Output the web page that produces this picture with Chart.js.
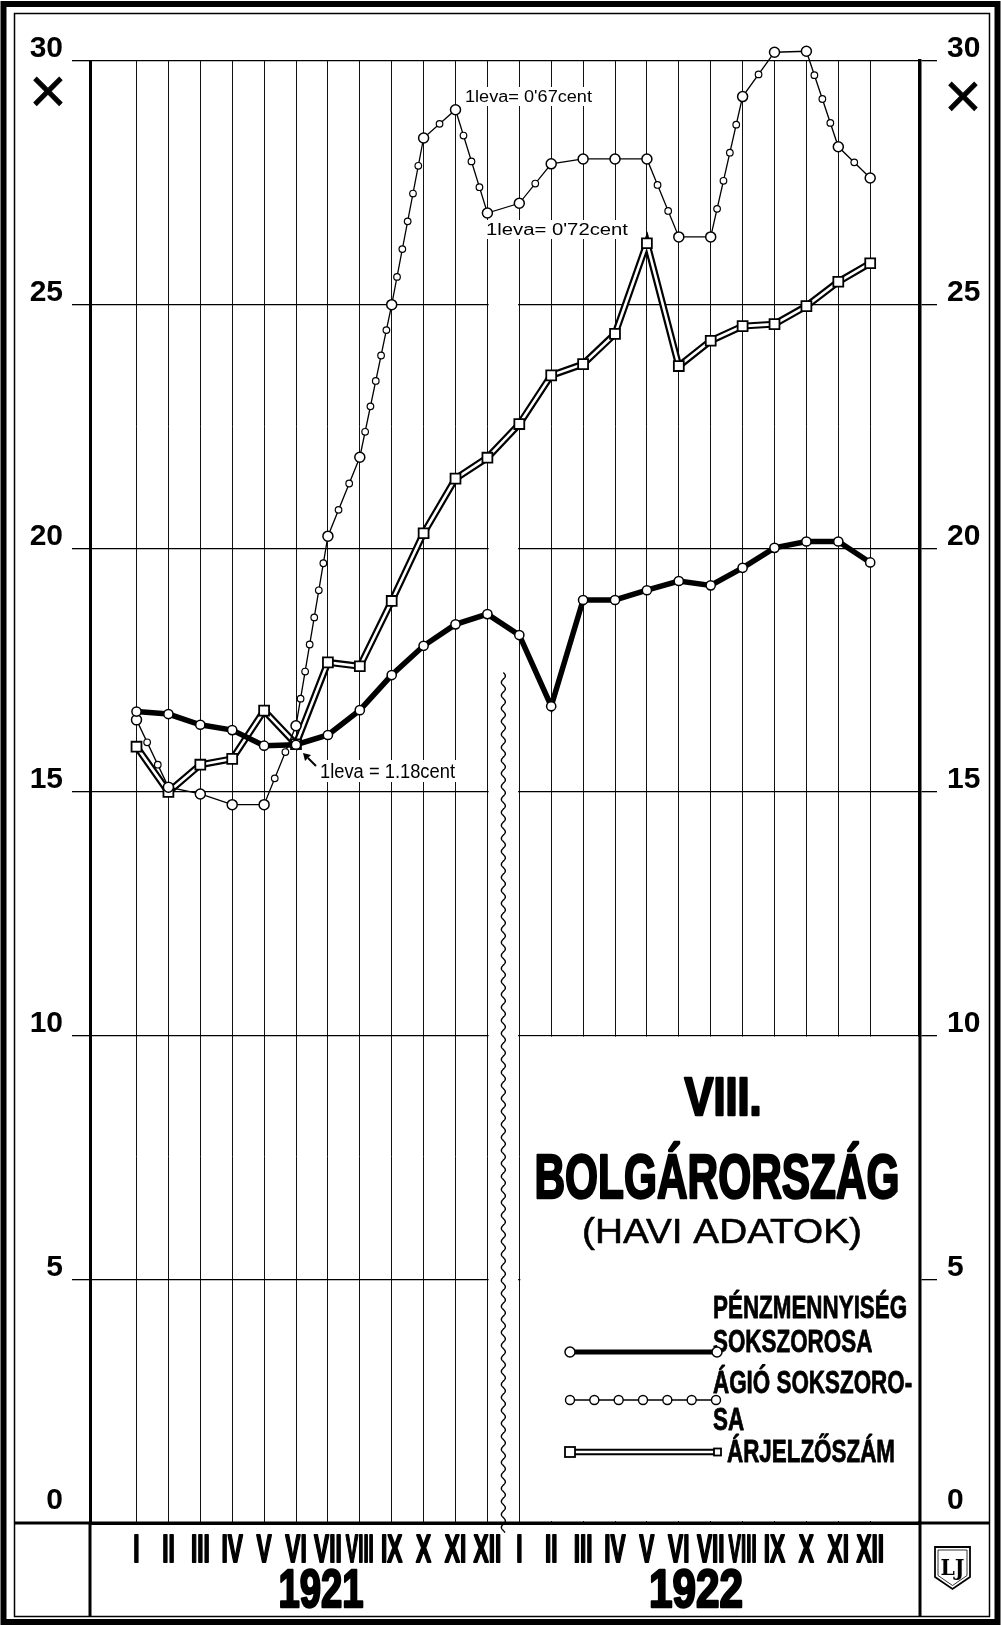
<!DOCTYPE html>
<html>
<head>
<meta charset="utf-8">
<script src="https://cdn.jsdelivr.net/npm/chart.js@4/dist/chart.umd.min.js"></script>
<style>
html,body{margin:0;padding:0;background:#fff;}
canvas{display:block;}
</style>
</head>
<body>
<canvas id="c" width="1001" height="1625"></canvas>
<script>
// ---------------- DATA ----------------
const months = ['I','II','III','IV','V','VI','VII','VIII','IX','X','XI','XII',
                'I','II','III','IV','V','VI','VII','VIII','IX','X','XI','XII'];
const years = ['1921', '1922'];
const yTicks = [0, 5, 10, 15, 20, 25, 30];

// Pénzmennyiség sokszorosa (thick line)
const penzmennyiseg = [16.65, 16.6, 16.38, 16.27, 15.95, 15.97, 16.17, 16.68, 17.4, 18.0, 18.44, 18.65,
                       18.22, 16.76, 18.94, 18.94, 19.14, 19.33, 19.24, 19.6, 20.01, 20.14, 20.14, 19.71];
// Ágió sokszorosa (circle line)
const agio = [16.48, 15.1, 14.96, 14.74, 14.74, 16.36, 20.25, 21.87, 25.0, 28.42, 29.0, 26.88,
              27.08, 27.89, 27.99, 27.99, 27.99, 26.39, 26.39, 29.27, 30.18, 30.2, 28.24, 27.6];
// Árjelzőszám (double line with squares)
const arjelzo = [15.93, 15.0, 15.56, 15.68, 16.67, 15.98, 17.66, 17.58, 18.92, 20.31, 21.43, 21.86,
                 22.55, 23.55, 23.78, 24.4, 26.26, 23.74, 24.26, 24.56, 24.6, 24.97, 25.47, 25.85];

const titleLines = ['VIII.', 'BOLGÁRORSZÁG', '(HAVI ADATOK)'];
const legendTexts = [['PÉNZMENNYISÉG', 'SOKSZOROSA'], ['ÁGIÓ SOKSZORO-', 'SA'], ['ÁRJELZŐSZÁM']];
const notes = ['1leva= 0\'67cent', '1leva= 0\'72cent', '1leva = 1.18cent'];
const multSign = '×';
const logoText = 'LJ';

// ---------------- HELPERS ----------------
const toXY = arr => arr.map((v, i) => ({x: i, y: v}));

function txt(ctx, s, x, y, o) {
  ctx.save();
  ctx.font = o.font;
  ctx.textBaseline = 'alphabetic';
  ctx.textAlign = 'left';
  const w = ctx.measureText(s).width;
  let sx = o.sx || 1;
  if (o.width) sx = o.width / w;
  const W = w * sx;
  let x0 = x;
  if (o.align === 'center') x0 = x - W / 2;
  else if (o.align === 'right') x0 = x - W;
  ctx.translate(x0, y);
  ctx.scale(sx, 1);
  if (o.bg) {
    ctx.fillStyle = '#fff';
    ctx.fillRect(-3 / sx, -o.bgUp, (w + 6 / sx), o.bgUp + o.bgDown);
  }
  ctx.fillStyle = o.color || '#000';
  ctx.fillText(s, 0, 0);
  if (o.stroke) {
    ctx.lineWidth = o.stroke;
    ctx.strokeStyle = o.color || '#000';
    ctx.lineJoin = 'round';
    ctx.strokeText(s, 0, 0);
  }
  ctx.restore();
  return W;
}

function circle(ctx, x, y, r, lw) {
  ctx.beginPath();
  ctx.arc(x, y, r, 0, Math.PI * 2);
  ctx.fillStyle = '#fff';
  ctx.fill();
  ctx.lineWidth = lw;
  ctx.strokeStyle = '#000';
  ctx.stroke();
}

function line(ctx, x1, y1, x2, y2, lw, color) {
  ctx.beginPath();
  ctx.moveTo(x1, y1);
  ctx.lineTo(x2, y2);
  ctx.lineWidth = lw;
  ctx.strokeStyle = color || '#000';
  ctx.stroke();
}

// ---------------- PLUGIN ----------------
const decor = {
  id: 'decor',
  beforeDatasetsDraw(chart) {
    const {ctx, chartArea: ca, scales: {x: xs, y: ys}} = chart;
    ctx.save();
    // white column between XII 1921 and I 1922
    const x11 = xs.getPixelForValue(11), x12 = xs.getPixelForValue(12);
    ctx.fillStyle = '#fff';
    ctx.fillRect(x11 + 1.2, ca.top + 1.5, x12 - x11 - 2.4, ca.bottom - ca.top - 3.5);
    // title / legend box in the lower right
    const y10 = ys.getPixelForValue(10);
    ctx.fillRect(x12 + 1, y10 + 1, ca.right - x12 - 2.6, ca.bottom - y10 - 3);

    // annotations
    txt(ctx, notes[0], 465, 102, {font: '16px "Liberation Sans"', width: 127, bg: true, bgUp: 15, bgDown: 4});
    txt(ctx, notes[1], 486, 235, {font: '16px "Liberation Sans"', width: 142, bg: true, bgUp: 15, bgDown: 4});
    txt(ctx, notes[2], 320, 778, {font: '20px "Liberation Sans"', width: 135, bg: true, bgUp: 18, bgDown: 4});
    // arrow for 1.18 cent
    line(ctx, 316, 766, 308, 758, 2);
    ctx.beginPath();
    ctx.moveTo(303, 753); ctx.lineTo(311, 755); ctx.lineTo(305, 761); ctx.closePath();
    ctx.fillStyle = '#000'; ctx.fill();
    ctx.restore();
  },
  afterDatasetDraw(chart, args) {
    if (args.index !== 1) return;
    const ctx = chart.ctx;
    const pts = args.meta.data;
    ctx.save();
    for (let i = 0; i < pts.length - 1; i++) {
      const p0 = pts[i], p1 = pts[i + 1];
      const len = Math.hypot(p1.x - p0.x, p1.y - p0.y);
      const n = Math.max(1, Math.round(len / 27));
      for (let k = 1; k < n; k++) {
        const t = k / n;
        circle(ctx, p0.x + (p1.x - p0.x) * t, p0.y + (p1.y - p0.y) * t, 3.3, 1.2);
      }
    }
    // month markers that lie above the plot top (library skips points outside the area)
    pts.forEach(p => { if (p.y < chart.chartArea.top) circle(ctx, p.x, p.y, 5, 1.5); });
    ctx.restore();
  },
  afterDraw(chart) {
    const {ctx, chartArea: ca, scales: {x: xs, y: ys}} = chart;
    ctx.save();
    // frame
    ctx.strokeStyle = '#000';
    ctx.lineWidth = 6;
    ctx.strokeRect(3.5, 4, 994, 1618);
    ctx.lineWidth = 1.5;
    ctx.strokeRect(14.5, 13.5, 975, 1603);
    // bottom band lines
    line(ctx, 14.5, ca.bottom, 989.5, ca.bottom, 3);
    line(ctx, ca.left, ca.bottom, ca.left, 1617, 3);
    line(ctx, ca.right, ca.bottom, ca.right, 1617, 3);

    // wavy separator
    const xw = xs.getPixelForValue(11.5);
    const yTop = ys.getPixelForValue(17.45), yBot = ca.bottom + 10;
    ctx.beginPath();
    for (let y = yTop; y <= yBot; y += 0.5) {
      const x = xw + 2 * Math.sin((y - yTop) / 13 * 2 * Math.PI);
      if (y === yTop) ctx.moveTo(x, y); else ctx.lineTo(x, y);
    }
    ctx.lineWidth = 1.4;
    ctx.strokeStyle = '#000';
    ctx.stroke();

    // month numerals
    months.forEach((m, i) => {
      const x = xs.getPixelForValue(i);
      ctx.font = 'bold 39px "Liberation Sans"';
      const w = ctx.measureText(m).width;
      const sx = Math.min(0.58, 28 / w);
      txt(ctx, m, x, 1562, {font: 'bold 39px "Liberation Sans"', sx: sx, align: 'center', stroke: 2});
    });
    // years
    txt(ctx, years[0], xs.getPixelForValue(5.78), 1607, {font: 'bold 54px "Liberation Sans"', width: 85, align: 'center', stroke: 2.5});
    txt(ctx, years[1], xs.getPixelForValue(17.54), 1607, {font: 'bold 54px "Liberation Sans"', width: 94, align: 'center', stroke: 2.5});

    // multiplication signs under the 30 labels
    ctx.font = '50px "DejaVu Sans"';
    ctx.textAlign = 'center';
    ctx.textBaseline = 'alphabetic';
    const mm = ctx.measureText(multSign);
    const off = (mm.actualBoundingBoxAscent - mm.actualBoundingBoxDescent) / 2;
    ctx.fillStyle = '#000';
    ctx.lineWidth = 1;
    ctx.strokeStyle = '#000';
    ctx.fillText(multSign, 48, 91 + off);
    ctx.strokeText(multSign, 48, 91 + off);
    ctx.fillText(multSign, 963, 96 + off);
    ctx.strokeText(multSign, 963, 96 + off);

    // title block
    txt(ctx, titleLines[0], 723, 1115, {font: 'bold 53px "Liberation Sans"', width: 77, align: 'center', stroke: 2.5});
    txt(ctx, titleLines[1], 717, 1198, {font: 'bold 63px "Liberation Sans"', width: 365, align: 'center', stroke: 2.5});
    txt(ctx, titleLines[2], 722, 1243, {font: '35px "Liberation Sans"', width: 280, align: 'center', stroke: 0.6});

    // legend texts
    const lf = 'bold 32px "Liberation Sans"';
    txt(ctx, legendTexts[0][0], 713, 1318, {font: lf, sx: 0.7, stroke: 0.8});
    txt(ctx, legendTexts[0][1], 713, 1352, {font: lf, sx: 0.7, stroke: 0.8});
    txt(ctx, legendTexts[1][0], 713, 1393, {font: lf, sx: 0.7, stroke: 0.8});
    txt(ctx, legendTexts[1][1], 713, 1430, {font: lf, sx: 0.7, stroke: 0.8});
    txt(ctx, legendTexts[2][0], 727, 1462, {font: lf, sx: 0.7, stroke: 0.8});

    // legend symbols
    line(ctx, 570, 1352, 717, 1352, 5);
    circle(ctx, 570, 1352, 5, 1.5);
    circle(ctx, 717, 1352, 5, 1.5);
    line(ctx, 570, 1400, 716, 1400, 1.3);
    for (let k = 0; k < 7; k++) circle(ctx, 570 + k * (146 / 6), 1400, 4.5, 1.4);
    line(ctx, 570, 1452, 717, 1452, 6.5);
    line(ctx, 572, 1452, 715, 1452, 2.5, '#fff');
    ctx.fillStyle = '#fff';
    ctx.strokeStyle = '#000';
    ctx.lineWidth = 1.8;
    ctx.fillRect(565, 1447, 10, 10); ctx.strokeRect(565, 1447, 10, 10);
    ctx.fillStyle = '#fff';
    ctx.fillRect(714, 1448.5, 7, 7); ctx.strokeRect(714, 1448.5, 7, 7);

    // LJ shield logo
    ctx.beginPath();
    ctx.moveTo(935, 1547); ctx.lineTo(970, 1547); ctx.lineTo(970, 1577);
    ctx.lineTo(952.5, 1589); ctx.lineTo(935, 1577); ctx.closePath();
    ctx.lineWidth = 1.8; ctx.strokeStyle = '#000'; ctx.stroke();
    ctx.beginPath();
    ctx.moveTo(938, 1550); ctx.lineTo(967, 1550); ctx.lineTo(967, 1575.5);
    ctx.lineTo(952.5, 1585.5); ctx.lineTo(938, 1575.5); ctx.closePath();
    ctx.lineWidth = 0.8; ctx.stroke();
    txt(ctx, logoText, 952.5, 1575, {font: 'bold 22px "DejaVu Serif"', width: 24, align: 'center'});
    ctx.restore();
  }
};

// ---------------- CHART ----------------
const yTickFont = {family: 'Liberation Sans', size: 30, weight: 'bold', lineHeight: 0.667};
const yLabel = v => (v === 0 ? ['0', ''] : String(v));

new Chart(document.getElementById('c'), {
  type: 'line',
  data: {
    datasets: [
      {label: 'Pénzmennyiség sokszorosa', data: toXY(penzmennyiseg), borderColor: '#000', borderWidth: 5.5,
       pointRadius: 4.6, pointBackgroundColor: '#fff', pointBorderColor: '#000', pointBorderWidth: 1.5,
       tension: 0, clip: false, order: 1},
      {label: 'Ágió sokszorosa', data: toXY(agio), borderColor: '#000', borderWidth: 1.3,
       pointRadius: 5, pointBackgroundColor: '#fff', pointBorderColor: '#000', pointBorderWidth: 1.5,
       tension: 0, clip: false, order: 3},
      {label: 'Árjelzőszám', data: toXY(arjelzo), borderColor: '#000', borderWidth: 7,
       pointRadius: 0, tension: 0, clip: false, order: 5},
      {label: 'Árjelzőszám ', data: toXY(arjelzo), borderColor: '#fff', borderWidth: 2.6,
       pointStyle: 'rect', pointRadius: 7, pointBackgroundColor: '#fff', pointBorderColor: '#000',
       pointBorderWidth: 1.8, tension: 0, clip: false, order: 4}
    ]
  },
  options: {
    responsive: false,
    animation: false,
    devicePixelRatio: 1,
    events: [],
    layout: {padding: {top: 61, left: 0, right: 0, bottom: 0}},
    plugins: {legend: {display: false}, tooltip: {enabled: false}, title: {display: false}},
    scales: {
      x: {
        type: 'linear', position: 'bottom', min: -1.458, max: 24.561,
        afterBuildTicks: s => { s.ticks = months.map((m, i) => ({value: i})); },
        afterFit: s => { s.height = 102; },
        ticks: {display: false},
        grid: {color: '#111', lineWidth: 1, drawTicks: false},
        border: {display: true, color: '#000', width: 3}
      },
      y: {
        position: 'left', min: 0, max: 30,
        afterBuildTicks: s => { s.ticks = yTicks.map(v => ({value: v})); },
        afterFit: s => { s.width = 90; },
        ticks: {callback: yLabel, font: yTickFont, color: '#000', padding: 9, labelOffset: -12, autoSkip: false},
        grid: {color: '#000', lineWidth: 1.3, tickLength: 18, drawTicks: true},
        border: {display: true, color: '#000', width: 3}
      },
      y2: {
        position: 'right', min: 0, max: 30,
        afterBuildTicks: s => { s.ticks = yTicks.map(v => ({value: v})); },
        afterFit: s => { s.width = 81; },
        ticks: {callback: yLabel, font: yTickFont, color: '#000', padding: 10, labelOffset: -12, autoSkip: false},
        grid: {color: '#000', lineWidth: 1.3, tickLength: 17, drawTicks: true, drawOnChartArea: false},
        border: {display: true, color: '#000', width: 3.5}
      }
    }
  },
  plugins: [decor]
});
</script>
</body>
</html>
